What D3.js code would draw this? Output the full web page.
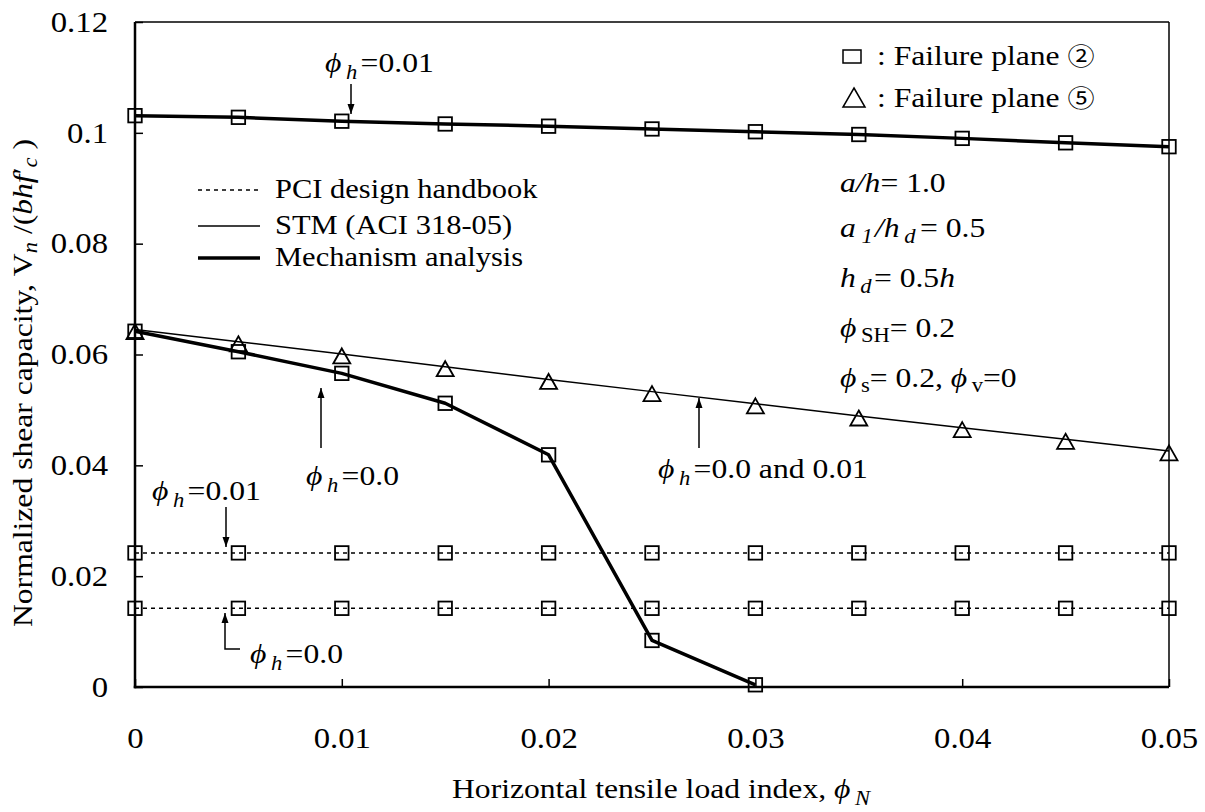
<!DOCTYPE html>
<html><head><meta charset="utf-8">
<script src="https://cdn.jsdelivr.net/npm/d3@7"></script>
<style>
body{margin:0;background:#fff}
svg{display:block}
text{font-family:"Liberation Serif","Times New Roman",serif;fill:#000;font-size:28px}
</style>
</head><body><svg id="c" width="1205" height="812"></svg>
<script>
// ---------------- data ----------------
const phiN = [0,0.005,0.01,0.015,0.02,0.025,0.03,0.035,0.04,0.045,0.05];
const mechH001 = [0.1031,0.1028,0.1021,0.1016,0.1012,0.1007,0.1002,0.0997,0.0990,0.0982,0.0975];
const phiNMech0 = [0,0.005,0.01,0.015,0.02,0.025,0.03];
const mechH000 = [0.0642,0.0605,0.0566,0.0512,0.0419,0.0084,0.0004];
const stmVals = [0.0645,0.0623,0.0601,0.0578,0.0555,0.0533,0.0511,0.0489,0.0468,0.0447,0.0426];
const pciH001 = [0.0242,0.0242,0.0242,0.0242,0.0242,0.0242,0.0242,0.0242,0.0242,0.0242,0.0242];
const pciH000 = [0.0142,0.0142,0.0142,0.0142,0.0142,0.0142,0.0142,0.0142,0.0142,0.0142,0.0142];
const xTickVals = [0,0.01,0.02,0.03,0.04,0.05];
const xTickLabels = ["0","0.01","0.02","0.03","0.04","0.05"];
const yTickVals = [0,0.02,0.04,0.06,0.08,0.1,0.12];
const yTickLabels = ["0","0.02","0.04","0.06","0.08","0.1","0.12"];
const legendLabels = ["PCI design handbook","STM (ACI 318-05)","Mechanism analysis"];
const PHI = "\u03D5";
const SX = 1.13; // horizontal stretch of the original typesetting

// ---------------- setup ----------------
const svg = d3.select("#c");
const L=135,R=1169,T=22,B=687;
const x = d3.scaleLinear().domain([0,0.05]).range([L,R]);
const y = d3.scaleLinear().domain([0,0.12]).range([B,T]);

svg.append("defs").append("marker")
  .attr("id","ah").attr("viewBox","0 0 10 10").attr("refX",10).attr("refY",5)
  .attr("markerWidth",10).attr("markerHeight",10).attr("markerUnits","userSpaceOnUse")
  .attr("orient","auto")
  .append("path").attr("d","M0,1.5 L10,5 L0,8.5 Z").attr("fill","#000");

// axes (ticks inside)
const gx = svg.append("g").attr("transform",`translate(0,${B})`)
  .call(d3.axisBottom(x).tickValues(xTickVals).tickFormat((d,i)=>xTickLabels[i]).tickSize(-8).tickSizeOuter(0).tickPadding(40));
const gy = svg.append("g").attr("transform",`translate(${L},0)`)
  .call(d3.axisLeft(y).tickValues(yTickVals).tickFormat((d,i)=>yTickLabels[i]).tickSize(-8).tickSizeOuter(0).tickPadding(27/SX));
[gx,gy].forEach(g=>{
  g.select(".domain").remove();
  g.selectAll(".tick line").attr("stroke","#000").attr("stroke-width",1.5);
  g.selectAll(".tick text").style("font-size","29px").attr("transform",`scale(${SX},1)`);
});

// frame
svg.append("line").attr("x1",L).attr("x2",R).attr("y1",T).attr("y2",T).attr("stroke","#000").attr("stroke-width",1.5);
svg.append("line").attr("x1",R).attr("x2",R).attr("y1",T).attr("y2",B).attr("stroke","#000").attr("stroke-width",1.5);
svg.append("line").attr("x1",L).attr("x2",L).attr("y1",T).attr("y2",B+1.25).attr("stroke","#000").attr("stroke-width",2.5);
svg.append("line").attr("x1",L-1.25).attr("x2",R).attr("y1",B).attr("y2",B).attr("stroke","#000").attr("stroke-width",2.5);

// ---------------- series ----------------
const line = d3.line().x(d=>x(d[0])).y(d=>y(d[1]));
const zip = (a,b)=>a.map((v,i)=>[v,b[i]]);

function series(xs, ys, width, dash, marker){
  const pts = zip(xs,ys);
  svg.append("path").datum(pts).attr("d",line).attr("fill","none").attr("stroke","#000")
    .attr("stroke-width",width).attr("stroke-dasharray",dash||null).attr("stroke-linejoin","round");
  const g = svg.append("g");
  if(marker==="sq"){
    g.selectAll("rect").data(pts).join("rect")
      .attr("x",d=>x(d[0])-6.75).attr("y",d=>y(d[1])-6.75).attr("width",13.5).attr("height",13.5)
      .attr("fill","none").attr("stroke","#000").attr("stroke-width",1.8);
  } else {
    g.selectAll("path").data(pts).join("path")
      .attr("transform",d=>`translate(${x(d[0])},${y(d[1])})`)
      .attr("d","M0,-5.5 L8.5,9.5 L-8.5,9.5 Z")
      .attr("fill","none").attr("stroke","#000").attr("stroke-width",1.8);
  }
}
series(phiN,pciH001,1.5,"4,4","sq");
series(phiN,pciH000,1.5,"4,4","sq");
series(phiN,stmVals,1.5,null,"tri");
series(phiN,mechH001,3.5,null,"sq");
series(phiNMech0,mechH000,3.5,null,"sq");

// ---------------- rich text helper ----------------
function rich(xpos, ypos, parts, opts){
  opts = opts||{};
  const t = svg.append("text")
    .attr("transform", opts.transform || `translate(${xpos},${ypos}) scale(${SX},1)`);
  if(opts.anchor) t.attr("text-anchor",opts.anchor);
  if(opts.size) t.style("font-size",opts.size+"px");
  let shift = 0;
  parts.forEach(p=>{
    const ts = t.append("tspan").text(p.t);
    const target = p.sub||0;
    if(target!==shift) ts.attr("dy", target-shift);
    shift = target;
    if(p.i) ts.attr("font-style","italic");
    if(p.s) ts.style("font-size",p.s+"px");
    if(p.f) ts.style("font-family",p.f);
    if(p.dx) ts.attr("dx",p.dx);
  });
  return t;
}
const phiH = (rest)=>[{t:PHI,i:1},{t:"h",i:1,s:20,sub:7,dx:4},{t:rest,dx:3}];

// annotations
function arrow(pts){
  svg.append("path").attr("d",d3.line()(pts)).attr("fill","none").attr("stroke","#000")
    .attr("stroke-width",1.5).attr("marker-end","url(#ah)");
}
rich(325,72,phiH("=0.01"));           arrow([[351,84],[351,114]]);
rich(306,485,phiH("=0.0"));           arrow([[321,448],[321,388]]);
rich(658,478,phiH("=0.0 and 0.01"));  arrow([[699,448],[699,398]]);
rich(152,500,phiH("=0.01"));          arrow([[226,507],[226,547]]);
rich(250,663,phiH("=0.0"));           arrow([[240,649],[225,649],[225,613]]);

// line legend
const legStyles = [{w:1.5,d:"4,4"},{w:1.5,d:null},{w:3.5,d:null}];
const legY = [190,226,258];
legendLabels.forEach((lab,i)=>{
  svg.append("line").attr("x1",198).attr("x2",260).attr("y1",legY[i]).attr("y2",legY[i])
    .attr("stroke","#000").attr("stroke-width",legStyles[i].w).attr("stroke-dasharray",legStyles[i].d);
  rich(275,legY[i]+8,[{t:lab}],{size:27});
});

// marker legend
const CJK = "Noto Sans CJK JP";
svg.append("rect").attr("x",843).attr("y",50).attr("width",18).attr("height",13)
  .attr("fill","none").attr("stroke","#000").attr("stroke-width",1.5);
rich(877,65,[{t:": Failure plane "},{t:"\u2461",f:CJK,s:24}]);
svg.append("path").attr("d","M854,88 L865,107 L843,107 Z").attr("fill","none").attr("stroke","#000").attr("stroke-width",1.5);
rich(877,107,[{t:": Failure plane "},{t:"\u2464",f:CJK,s:24}]);

// parameters
rich(840,192,[{t:"a/h",i:1},{t:"= 1.0"}]);
rich(840,237,[{t:"a",i:1},{t:"1",i:1,s:20,sub:6,dx:5},{t:"/h",i:1,dx:2},{t:"d",i:1,s:20,sub:6,dx:4},{t:"= 0.5",dx:4}]);
rich(840,287,[{t:"h",i:1},{t:"d",i:1,s:20,sub:6,dx:4},{t:"= 0.5",dx:2},{t:"h",i:1}]);
rich(840,337,[{t:PHI,i:1},{t:"SH",s:20,sub:5,dx:4},{t:"= 0.2"}]);
rich(840,387,[{t:PHI,i:1},{t:"s",s:20,sub:5,dx:4},{t:"= 0.2, "},{t:PHI,i:1},{t:"v",s:20,sub:5,dx:4},{t:"=0"}]);

// axis titles
rich(452,798,[{t:"Horizontal tensile load index, "},{t:PHI,i:1},{t:"N",i:1,s:20,sub:7,dx:4}]);
rich(0,0,[{t:"Normalized shear capacity, "},{t:"V"},{t:"n",i:1,s:20,sub:5},{t:" /("},{t:"bhf",i:1},{t:"\u2032"},{t:"c",i:1,s:20,sub:5},{t:" )"}],
  {anchor:"middle", transform:`translate(32,383) rotate(-90) scale(${SX},1)`});
</script></body></html>
